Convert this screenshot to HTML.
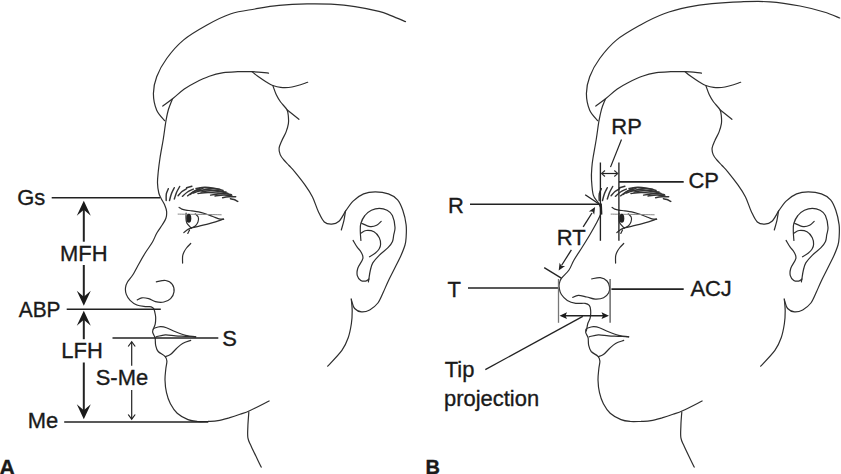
<!DOCTYPE html>
<html><head><meta charset="utf-8"><style>
html,body{margin:0;padding:0;background:#fff;}
svg{display:block;}
text{font-family:"Liberation Sans",sans-serif;fill:#1a1a1a;stroke:#1a1a1a;stroke-width:0.35px;}
</style></head><body>
<svg width="841" height="474" viewBox="0 0 841 474">
<rect width="841" height="474" fill="#fff"/>
<g fill="none" stroke="#2e2e2e" stroke-width="1.2" stroke-linecap="round" stroke-linejoin="round">
<path d="M162.8,106.1 C164.5,104.8 169.3,101.3 172.9,98.5 C176.5,95.7 180.6,91.6 184.3,89.0 C188.0,86.4 190.8,84.8 195.0,82.7 C199.2,80.6 204.6,78.0 209.3,76.3 C214.1,74.6 218.8,73.5 223.5,72.7 C228.2,71.9 233.0,71.9 237.8,71.7 C242.6,71.5 247.0,71.5 252.1,71.7 C257.2,71.9 265.8,72.9 268.5,73.1"/>
<path d="M252.1,71.7 C253.1,72.5 255.4,74.6 257.8,76.3 C260.2,78.0 263.8,80.5 266.3,82.0 C268.8,83.5 270.4,84.6 272.8,85.5 C275.2,86.4 277.4,87.2 280.6,87.4 C283.8,87.7 287.5,87.8 292.0,87.0 C296.5,86.2 305.1,83.1 307.7,82.3"/>
<path d="M272.8,85.5 C273.4,87.0 275.0,92.0 276.3,94.8 C277.6,97.5 278.8,99.5 280.6,102.0 C282.4,104.5 285.7,107.3 287.0,109.8 C288.3,112.3 288.2,114.7 288.4,117.0 C288.6,119.3 288.8,121.1 288.4,123.6 C288.0,126.1 287.1,129.2 286.0,132.1 C284.9,134.9 282.9,138.0 281.8,140.7 C280.7,143.4 279.4,145.9 279.1,148.2 C278.8,150.5 279.4,152.6 280.2,154.6 C281.0,156.6 282.4,158.2 283.9,160.0 C285.4,161.8 287.2,163.5 289.0,165.5 C290.8,167.5 292.1,168.5 294.8,171.8 C297.5,175.1 302.2,180.9 305.1,185.1 C308.1,189.3 310.3,192.5 312.5,196.9 C314.7,201.3 316.4,207.5 318.4,211.7 C320.4,215.9 322.1,219.9 324.3,222.0 C326.5,224.1 329.2,224.3 331.7,224.2 C334.1,224.1 336.7,223.5 339.0,221.3 C341.3,219.1 344.4,212.9 345.5,211.2"/>
<path d="M287.0,109.8 L298.9,119.3"/>
<path d="M345.5,211.2 C346.8,209.5 350.1,204.0 353.1,201.1 C356.1,198.2 359.9,195.4 363.6,193.9 C367.3,192.4 371.2,191.9 375.3,191.9 C379.4,191.9 384.7,192.6 388.4,193.9 C392.1,195.2 395.2,197.1 397.6,199.8 C400.0,202.5 401.4,206.2 402.8,210.3 C404.2,214.4 405.6,220.0 406.1,224.6 C406.7,229.2 406.3,234.3 406.1,237.7 C405.9,241.1 405.8,242.1 405.0,245.0 C404.2,247.9 402.7,251.5 401.2,255.0 C399.7,258.5 397.9,261.9 395.8,266.0 C393.8,270.1 391.0,275.4 388.9,279.7 C386.8,284.0 385.2,288.1 383.4,292.0 C381.6,295.9 380.2,300.0 377.9,303.0 C375.6,306.0 372.4,308.4 369.7,309.9 C367.0,311.4 364.0,312.1 361.5,311.9 C359.0,311.7 356.2,310.2 354.6,308.5 C353.0,306.8 352.5,303.2 351.9,301.6 C351.3,300.0 351.3,299.3 351.2,298.9"/>
<path d="M345.5,211.2 C345.2,212.8 344.6,217.6 343.9,220.7 C343.2,223.8 341.7,228.4 341.3,230.0"/>
<path d="M360.9,240.4 C360.8,238.9 360.3,234.0 360.3,231.2 C360.3,228.3 360.1,225.9 360.9,223.3 C361.7,220.7 363.1,217.7 364.9,215.5 C366.6,213.3 369.0,211.5 371.4,210.3 C373.8,209.1 376.7,208.3 379.3,208.3 C381.9,208.3 384.9,209.1 387.1,210.3 C389.3,211.5 391.1,212.7 392.4,215.5 C393.7,218.3 394.8,224.1 395.0,227.3 C395.2,230.6 394.1,232.7 393.7,235.0 C393.3,237.3 393.4,239.3 392.5,241.4 C391.6,243.5 390.2,245.4 388.0,247.7 C385.8,250.0 381.7,252.8 379.2,255.3 C376.7,257.8 374.3,260.4 372.8,262.9 C371.3,265.4 370.9,268.0 370.3,270.5 C369.7,273.0 369.3,276.2 369.0,278.1 C368.7,280.0 368.5,281.3 368.4,281.9"/>
<path d="M361.6,223.3 C363.0,223.9 367.6,226.3 370.1,226.6 C372.6,226.9 374.8,226.2 376.6,225.3 C378.5,224.4 380.4,222.1 381.2,221.4"/>
<path d="M360.9,233.2 C361.8,232.8 364.0,230.7 366.2,230.5 C368.4,230.3 371.8,230.6 374.0,231.8 C376.2,233.0 378.2,235.6 379.3,237.7 C380.4,239.8 380.6,242.4 380.6,244.3 C380.6,246.2 380.0,247.6 379.1,249.0 C378.2,250.4 377.0,251.7 375.4,253.0 C373.8,254.3 370.5,256.2 369.5,256.8"/>
<path d="M353.1,240.4 C353.8,241.5 355.7,245.1 357.0,246.9 C358.3,248.8 359.7,249.6 360.7,251.5 C361.7,253.4 363.4,255.5 362.9,258.3 C362.4,261.1 358.7,265.3 357.8,268.2 C356.9,271.1 356.8,273.6 357.3,275.6 C357.8,277.6 359.4,279.5 360.8,280.4 C362.2,281.3 364.2,281.3 365.6,281.1 C367.0,280.9 368.4,279.4 369.0,279.0"/>
<path d="M351.4,299.7 C351.5,301.6 352.2,306.8 352.2,310.8 C352.2,314.8 352.1,319.0 351.4,323.5 C350.7,328.0 349.8,333.2 348.2,337.7 C346.6,342.2 345.3,345.6 341.9,350.4 C338.5,355.1 330.1,363.6 327.7,366.2"/>
<path d="M248.8,412.2 C248.7,414.4 248.1,421.2 247.9,425.5 C247.8,429.8 247.3,434.4 247.9,437.9 C248.5,441.4 249.2,441.8 251.4,446.7 C253.6,451.6 259.6,463.7 261.2,467.1"/>
<path d="M190.7,243.5 C190.0,244.2 187.6,246.6 186.5,248.0 C185.4,249.4 184.7,250.6 184.0,252.0 C183.3,253.4 182.8,254.5 182.6,256.4 C182.4,258.2 182.6,262.0 182.6,263.1"/>
<path d="M154.2,328.2 C155.2,327.9 158.3,326.8 160.3,326.7 C162.3,326.6 163.9,326.8 166.4,327.7 C168.9,328.6 172.3,330.5 175.5,331.8 C178.7,333.1 182.2,334.5 185.6,335.3 C189.0,336.1 194.0,336.6 195.7,336.8"/>
<path d="M156.2,336.8 C157.7,336.5 162.1,335.0 165.3,334.8 C168.5,334.6 172.1,335.6 175.5,335.8 C178.9,336.1 182.2,336.1 185.6,336.3 C189.0,336.5 194.0,336.7 195.7,336.8"/>
<path d="M153.2,329.2 C153.1,329.7 152.4,331.0 152.7,332.3 C152.9,333.6 154.3,335.8 154.7,336.8 C155.1,337.8 155.0,337.0 155.2,338.4 C155.4,339.8 155.2,343.2 155.7,345.4 C156.2,347.6 156.6,349.7 158.2,351.5 C159.8,353.3 163.6,354.8 165.0,356.4 C166.4,358.0 166.8,359.0 166.9,361.1 C167.0,363.2 166.1,365.9 165.8,369.0 C165.5,372.1 164.9,376.1 165.0,380.0 C165.1,383.9 165.6,388.7 166.5,392.7 C167.4,396.7 168.6,400.4 170.4,403.8 C172.2,407.2 174.3,410.6 177.2,413.2 C180.1,415.8 184.6,418.2 188.0,419.6 C191.4,421.0 194.1,421.2 197.4,421.5 C200.7,421.8 204.6,421.5 208.0,421.4 C211.4,421.2 214.5,421.2 218.0,420.6 C221.5,420.0 225.3,418.9 229.0,417.9 C232.7,416.8 236.6,415.5 240.0,414.3 C243.4,413.1 244.8,413.0 249.6,410.8 C254.4,408.6 265.9,402.6 269.1,401.0"/>
<path d="M165.3,356.6 C166.2,356.3 168.5,356.0 170.4,354.6 C172.3,353.2 174.5,350.4 176.5,348.5 C178.5,346.6 180.2,344.8 182.6,343.4 C185.0,342.0 189.3,340.9 190.7,340.4"/>
<path d="M179.1,207.4 C179.6,207.7 180.7,208.7 181.8,209.1 C182.9,209.5 184.1,209.8 185.8,210.1 C187.5,210.4 189.8,210.5 191.9,210.8 C194.0,211.1 196.3,211.3 198.6,211.8 C200.8,212.3 203.0,213.0 205.4,213.8 C207.8,214.6 210.6,215.7 212.8,216.5 C215.1,217.3 217.1,218.5 218.9,218.9 C220.7,219.3 222.8,219.1 223.6,219.2"/>
<path d="M186.1,213.1 C186.1,213.9 185.9,216.3 186.0,218.0 C186.1,219.7 185.9,221.3 186.8,223.0 C187.7,224.7 190.5,227.2 191.2,228.0"/>
<path d="M195.3,213.8 C195.8,214.4 197.9,215.8 198.3,217.2 C198.8,218.5 198.5,220.4 198.0,221.9 C197.5,223.4 196.4,225.0 195.3,226.0 C194.2,227.0 191.9,227.7 191.2,228.0"/>
<path d="M191.2,228.0 C192.2,227.8 194.9,227.2 197.3,226.6 C199.7,226.0 202.4,225.4 205.4,224.6 C208.4,223.8 212.5,222.8 215.5,221.9 C218.5,221.0 222.2,219.6 223.6,219.2"/>
<path d="M183.8,232.7 C184.3,232.2 185.8,230.8 187.0,230.0 C188.2,229.2 190.5,228.3 191.2,228.0"/>
<path d="M187.8,233.4 L189.5,230.0"/>
<path d="M595.8,106.1 C597.5,104.8 602.3,101.3 605.9,98.5 C609.5,95.7 613.6,91.6 617.3,89.0 C621.0,86.4 623.8,84.8 628.0,82.7 C632.2,80.6 637.5,78.0 642.3,76.3 C647.0,74.6 651.8,73.5 656.5,72.7 C661.2,71.9 666.0,71.9 670.8,71.7 C675.6,71.5 680.0,71.5 685.1,71.7 C690.2,71.9 698.8,72.9 701.5,73.1"/>
<path d="M685.1,71.7 C686.0,72.5 688.4,74.6 690.8,76.3 C693.2,78.0 696.8,80.5 699.3,82.0 C701.8,83.5 703.4,84.6 705.8,85.5 C708.2,86.4 710.4,87.2 713.6,87.4 C716.8,87.7 720.5,87.8 725.0,87.0 C729.5,86.2 738.1,83.1 740.7,82.3"/>
<path d="M705.8,85.5 C706.4,87.0 708.0,92.0 709.3,94.8 C710.6,97.5 711.8,99.5 713.6,102.0 C715.4,104.5 718.7,107.3 720.0,109.8 C721.3,112.3 721.2,114.7 721.4,117.0 C721.6,119.3 721.8,121.1 721.4,123.6 C721.0,126.1 720.1,129.2 719.0,132.1 C717.9,134.9 715.9,138.0 714.8,140.7 C713.6,143.4 712.4,145.9 712.1,148.2 C711.8,150.5 712.4,152.6 713.2,154.6 C714.0,156.6 715.4,158.2 716.9,160.0 C718.4,161.8 720.2,163.5 722.0,165.5 C723.8,167.5 725.1,168.5 727.8,171.8 C730.5,175.1 735.1,180.9 738.1,185.1 C741.1,189.3 743.3,192.5 745.5,196.9 C747.7,201.3 749.4,207.5 751.4,211.7 C753.4,215.9 755.1,219.9 757.3,222.0 C759.5,224.1 762.2,224.3 764.7,224.2 C767.2,224.1 769.7,223.5 772.0,221.3 C774.3,219.1 777.4,212.9 778.5,211.2"/>
<path d="M720.0,109.8 L731.9,119.3"/>
<path d="M778.5,211.2 C779.8,209.5 783.1,204.0 786.1,201.1 C789.1,198.2 792.9,195.4 796.6,193.9 C800.3,192.4 804.2,191.9 808.3,191.9 C812.4,191.9 817.7,192.6 821.4,193.9 C825.1,195.2 828.2,197.1 830.6,199.8 C833.0,202.5 834.4,206.2 835.8,210.3 C837.2,214.4 838.5,220.0 839.1,224.6 C839.7,229.2 839.3,234.3 839.1,237.7 C838.9,241.1 838.8,242.1 838.0,245.0 C837.2,247.9 835.7,251.5 834.2,255.0 C832.7,258.5 830.8,261.9 828.8,266.0 C826.8,270.1 824.0,275.4 821.9,279.7 C819.8,284.0 818.2,288.1 816.4,292.0 C814.6,295.9 813.2,300.0 810.9,303.0 C808.6,306.0 805.4,308.4 802.7,309.9 C800.0,311.4 797.0,312.1 794.5,311.9 C792.0,311.7 789.2,310.2 787.6,308.5 C786.0,306.8 785.5,303.2 784.9,301.6 C784.3,300.0 784.3,299.3 784.2,298.9"/>
<path d="M778.5,211.2 C778.2,212.8 777.6,217.6 776.9,220.7 C776.2,223.8 774.7,228.4 774.3,230.0"/>
<path d="M793.9,240.4 C793.8,238.9 793.3,234.0 793.3,231.2 C793.3,228.3 793.1,225.9 793.9,223.3 C794.7,220.7 796.1,217.7 797.9,215.5 C799.6,213.3 802.0,211.5 804.4,210.3 C806.8,209.1 809.7,208.3 812.3,208.3 C814.9,208.3 817.9,209.1 820.1,210.3 C822.3,211.5 824.1,212.7 825.4,215.5 C826.7,218.3 827.8,224.1 828.0,227.3 C828.2,230.6 827.1,232.7 826.7,235.0 C826.3,237.3 826.5,239.3 825.5,241.4 C824.5,243.5 823.2,245.4 821.0,247.7 C818.8,250.0 814.7,252.8 812.2,255.3 C809.7,257.8 807.3,260.4 805.8,262.9 C804.3,265.4 803.9,268.0 803.3,270.5 C802.7,273.0 802.3,276.2 802.0,278.1 C801.7,280.0 801.5,281.3 801.4,281.9"/>
<path d="M794.6,223.3 C796.0,223.9 800.6,226.3 803.1,226.6 C805.6,226.9 807.8,226.2 809.6,225.3 C811.5,224.4 813.4,222.1 814.2,221.4"/>
<path d="M793.9,233.2 C794.8,232.8 797.0,230.7 799.2,230.5 C801.4,230.3 804.8,230.6 807.0,231.8 C809.2,233.0 811.2,235.6 812.3,237.7 C813.4,239.8 813.6,242.4 813.6,244.3 C813.6,246.2 813.0,247.6 812.1,249.0 C811.2,250.4 810.0,251.7 808.4,253.0 C806.8,254.3 803.5,256.2 802.5,256.8"/>
<path d="M786.1,240.4 C786.8,241.5 788.7,245.1 790.0,246.9 C791.3,248.8 792.7,249.6 793.7,251.5 C794.7,253.4 796.4,255.5 795.9,258.3 C795.4,261.1 791.7,265.3 790.8,268.2 C789.9,271.1 789.8,273.6 790.3,275.6 C790.8,277.6 792.4,279.5 793.8,280.4 C795.2,281.3 797.2,281.3 798.6,281.1 C800.0,280.9 801.4,279.4 802.0,279.0"/>
<path d="M784.4,299.7 C784.5,301.6 785.2,306.8 785.2,310.8 C785.2,314.8 785.1,319.0 784.4,323.5 C783.7,328.0 782.8,333.2 781.2,337.7 C779.6,342.2 778.3,345.6 774.9,350.4 C771.5,355.1 763.1,363.6 760.7,366.2"/>
<path d="M681.8,412.2 C681.6,414.4 681.0,421.2 680.9,425.5 C680.8,429.8 680.3,434.4 680.9,437.9 C681.5,441.4 682.2,441.8 684.4,446.7 C686.6,451.6 692.6,463.7 694.2,467.1"/>
<path d="M623.7,243.5 C623.0,244.2 620.6,246.6 619.5,248.0 C618.4,249.4 617.6,250.6 617.0,252.0 C616.4,253.4 615.8,254.5 615.6,256.4 C615.4,258.2 615.6,262.0 615.6,263.1"/>
<path d="M587.2,328.2 C588.2,327.9 591.3,326.8 593.3,326.7 C595.3,326.6 596.9,326.8 599.4,327.7 C601.9,328.6 605.3,330.5 608.5,331.8 C611.7,333.1 615.2,334.5 618.6,335.3 C622.0,336.1 627.0,336.6 628.7,336.8"/>
<path d="M589.2,336.8 C590.7,336.5 595.1,335.0 598.3,334.8 C601.5,334.6 605.1,335.6 608.5,335.8 C611.9,336.1 615.2,336.1 618.6,336.3 C622.0,336.5 627.0,336.7 628.7,336.8"/>
<path d="M586.2,329.2 C586.1,329.7 585.5,331.0 585.7,332.3 C586.0,333.6 587.3,335.8 587.7,336.8 C588.1,337.8 588.0,337.0 588.2,338.4 C588.4,339.8 588.2,343.2 588.7,345.4 C589.2,347.6 589.7,349.7 591.2,351.5 C592.8,353.3 596.5,354.8 598.0,356.4 C599.5,358.0 599.8,359.0 599.9,361.1 C600.0,363.2 599.1,365.9 598.8,369.0 C598.5,372.1 597.9,376.1 598.0,380.0 C598.1,383.9 598.6,388.7 599.5,392.7 C600.4,396.7 601.6,400.4 603.4,403.8 C605.2,407.2 607.3,410.6 610.2,413.2 C613.1,415.8 617.6,418.2 621.0,419.6 C624.4,421.0 627.1,421.2 630.4,421.5 C633.7,421.8 637.6,421.5 641.0,421.4 C644.4,421.2 647.5,421.2 651.0,420.6 C654.5,420.0 658.3,418.9 662.0,417.9 C665.7,416.8 669.6,415.5 673.0,414.3 C676.4,413.1 677.8,413.0 682.6,410.8 C687.5,408.6 698.9,402.6 702.1,401.0"/>
<path d="M598.3,356.6 C599.1,356.3 601.5,356.0 603.4,354.6 C605.3,353.2 607.5,350.4 609.5,348.5 C611.5,346.6 613.2,344.8 615.6,343.4 C618.0,342.0 622.4,340.9 623.7,340.4"/>
<path d="M612.1,207.4 C612.5,207.7 613.7,208.7 614.8,209.1 C615.9,209.5 617.1,209.8 618.8,210.1 C620.5,210.4 622.8,210.5 624.9,210.8 C627.0,211.1 629.4,211.3 631.6,211.8 C633.9,212.3 636.0,213.0 638.4,213.8 C640.8,214.6 643.5,215.7 645.8,216.5 C648.0,217.3 650.1,218.5 651.9,218.9 C653.7,219.3 655.8,219.1 656.6,219.2"/>
<path d="M619.1,213.1 C619.1,213.9 618.9,216.3 619.0,218.0 C619.1,219.7 618.9,221.3 619.8,223.0 C620.7,224.7 623.5,227.2 624.2,228.0"/>
<path d="M628.3,213.8 C628.8,214.4 630.8,215.8 631.3,217.2 C631.8,218.5 631.5,220.4 631.0,221.9 C630.5,223.4 629.4,225.0 628.3,226.0 C627.2,227.0 624.9,227.7 624.2,228.0"/>
<path d="M624.2,228.0 C625.2,227.8 627.9,227.2 630.3,226.6 C632.7,226.0 635.4,225.4 638.4,224.6 C641.4,223.8 645.5,222.8 648.5,221.9 C651.5,221.0 655.2,219.6 656.6,219.2"/>
<path d="M616.8,232.7 C617.3,232.2 618.8,230.8 620.0,230.0 C621.2,229.2 623.5,228.3 624.2,228.0"/>
<path d="M620.8,233.4 L622.5,230.0"/>
<path d="M405.5,21.6 C403.1,20.6 395.4,17.3 391.0,15.6 C386.6,13.9 385.0,12.9 379.0,11.4 C373.0,9.9 363.0,7.8 355.0,6.6 C347.0,5.4 339.0,4.7 331.0,4.2 C323.0,3.8 315.7,3.7 307.0,3.9 C298.3,4.1 287.7,4.6 279.0,5.4 C270.3,6.2 263.0,7.6 255.0,9.0 C247.0,10.4 239.0,11.1 231.0,13.8 C223.0,16.5 214.9,20.6 207.0,25.0 C199.1,29.4 190.1,34.5 183.4,40.1 C176.7,45.7 171.1,52.4 166.7,58.5 C162.2,64.6 158.9,71.0 156.7,76.8 C154.5,82.6 153.4,88.0 153.4,93.6 C153.4,99.2 154.8,105.8 156.7,110.3 C158.6,114.8 163.4,119.0 164.7,120.7"/>
<path d="M172.3,99.2 C171.7,100.9 169.6,105.7 168.5,109.3 C167.4,112.9 166.9,115.8 166.0,120.7 C165.1,125.7 164.3,132.8 163.3,139.0 C162.3,145.2 160.8,152.6 160.0,158.0 C159.2,163.4 158.7,167.1 158.3,171.3 C157.9,175.5 157.4,179.4 157.5,183.0 C157.6,186.6 158.2,190.4 158.8,193.0 C159.4,195.6 160.2,196.5 161.1,198.4 C162.0,200.3 163.6,202.4 164.5,204.6 C165.4,206.8 166.4,209.1 166.6,211.4 C166.8,213.7 166.6,216.1 165.9,218.3 C165.2,220.5 164.0,222.1 162.5,224.5 C161.0,226.9 158.7,229.8 157.0,232.7 C155.3,235.6 154.4,238.7 152.5,242.0 C150.6,245.3 147.8,248.9 145.5,252.5 C143.2,256.1 141.1,259.9 139.0,263.7 C136.9,267.4 134.6,272.0 132.7,275.0 C130.8,278.0 128.8,279.7 127.6,281.8 C126.4,283.9 125.7,285.6 125.5,287.7 C125.3,289.8 125.5,292.3 126.3,294.4 C127.1,296.5 128.3,298.5 130.1,300.3 C131.9,302.1 134.4,303.9 136.9,305.0 C139.4,306.1 142.9,306.3 145.3,306.6 C147.7,306.9 149.8,306.4 151.2,306.8 C152.6,307.2 153.1,307.4 153.8,308.8 C154.5,310.2 155.1,313.4 155.4,315.0 C155.7,316.6 155.7,316.6 155.7,318.1 C155.7,319.6 155.6,322.4 155.2,324.2 C154.8,326.0 153.5,328.4 153.2,329.2"/>
<path d="M137.3,299.9 C138.1,299.5 140.0,298.0 141.9,297.8 C143.8,297.6 146.4,298.0 148.7,298.6 C150.9,299.2 152.9,301.0 155.4,301.6 C157.9,302.2 161.4,302.5 163.9,302.0 C166.4,301.5 168.9,300.3 170.6,298.6 C172.3,296.9 173.7,294.3 174.0,291.9 C174.3,289.5 173.7,286.2 172.3,284.3 C170.9,282.4 168.3,280.9 165.6,280.5 C162.9,280.1 157.9,281.6 156.3,281.8"/>
<path d="M839.7,18.0 C837.1,17.0 830.6,14.0 824.0,12.0 C817.4,10.0 809.0,7.7 800.0,6.0 C791.0,4.3 779.8,2.5 770.0,1.8 C760.2,1.1 750.7,1.5 741.0,1.8 C731.3,2.1 720.8,2.7 712.0,3.6 C703.2,4.5 696.0,5.5 688.0,7.2 C680.0,8.9 672.0,10.8 664.0,13.8 C656.0,16.8 647.9,20.8 640.0,25.2 C632.1,29.6 623.1,34.6 616.4,40.1 C609.7,45.6 604.2,52.4 599.7,58.5 C595.2,64.6 591.9,71.0 589.7,76.8 C587.5,82.6 586.4,88.0 586.4,93.6 C586.4,99.2 587.8,105.8 589.7,110.3 C591.6,114.8 596.4,119.0 597.7,120.7"/>
<path d="M605.3,99.2 C604.7,100.9 602.5,105.7 601.5,109.3 C600.5,112.9 599.9,115.8 599.0,120.7 C598.1,125.7 597.3,132.8 596.3,139.0 C595.3,145.2 593.8,153.2 593.0,158.0 C592.2,162.8 592.0,164.4 591.8,168.0 C591.5,171.6 591.2,175.2 591.5,179.7 C591.8,184.2 592.2,191.4 593.3,195.2 C594.4,199.0 596.8,200.3 598.0,202.3 C599.2,204.3 600.0,206.2 600.4,207.0"/>
<path d="M600.8,214.0 C600.2,215.3 598.8,218.6 597.0,222.0 C595.2,225.4 592.5,230.2 590.0,234.5 C587.5,238.8 584.7,243.2 582.0,247.5 C579.3,251.8 576.2,256.2 574.0,260.0 C571.8,263.8 571.1,266.9 569.0,270.0 C566.9,273.1 563.0,276.1 561.4,278.4 C559.8,280.6 559.6,281.8 559.3,283.5 C558.9,285.2 558.9,286.8 559.3,288.6 C559.6,290.4 560.1,292.5 561.4,294.5 C562.7,296.5 564.9,298.9 567.3,300.4 C569.7,301.9 572.8,302.8 575.8,303.3 C578.8,303.8 582.9,303.0 585.1,303.3 C587.4,303.6 588.4,304.3 589.3,305.4 C590.2,306.5 590.5,307.9 590.6,310.0 C590.8,312.1 590.7,315.6 590.2,317.8 C589.7,320.1 588.4,321.4 587.8,323.5 C587.2,325.6 586.7,329.8 586.4,330.7 C586.1,331.6 586.2,329.4 586.2,329.2"/>
<path d="M572.8,297.4 C573.7,297.0 576.0,295.4 578.3,295.3 C580.6,295.2 584.0,296.4 586.8,297.0 C589.6,297.6 592.4,299.0 595.2,299.1 C598.0,299.2 601.4,298.9 603.6,297.8 C605.9,296.8 607.7,294.6 608.7,292.8 C609.7,291.0 609.8,288.9 609.5,286.9 C609.2,284.9 608.5,282.6 607.0,281.0 C605.5,279.4 602.8,278.0 600.3,277.6 C597.8,277.2 593.2,278.7 591.8,278.9"/>

</g>
<g fill="none" stroke="#888" stroke-width="1.0">
<path d="M177.7,214.1 C181.4,214.2 192.7,214.3 200.0,214.4 C207.3,214.5 218.0,214.7 221.6,214.8"/>
<path d="M610.7,214.1 C614.4,214.2 625.7,214.3 633.0,214.4 C640.3,214.5 651.0,214.7 654.6,214.8"/>
</g>
<g fill="none" stroke="#333" stroke-width="1.45" stroke-linecap="round">
<path d="M166.2,200.5 C166.2,199.4 166.0,196.0 166.3,194.0 C166.7,192.0 168.0,189.6 168.3,188.7"/>
<path d="M169.5,200.5 C169.8,199.3 170.7,195.6 171.5,193.5 C172.3,191.4 173.8,188.7 174.3,187.7"/>
<path d="M174.3,199.1 C174.7,198.0 175.6,194.6 176.5,192.5 C177.4,190.4 179.2,187.5 179.7,186.5"/>
<path d="M178.1,195.8 C178.8,195.1 180.6,192.7 182.0,191.5 C183.4,190.3 185.8,189.2 186.6,188.7"/>
<path d="M182.4,196.3 C183.2,195.6 185.7,193.2 187.5,192.0 C189.3,190.8 192.3,189.6 193.3,189.1"/>
<path d="M187.6,195.8 C188.6,195.1 191.4,192.8 193.5,191.5 C195.6,190.2 198.9,188.8 200.0,188.2"/>
<path d="M186.6,187.7 L191.9,186.3"/>
<path d="M193.3,193.0 L200.0,190.6"/>
<path d="M196.0,188.5 C197.5,188.3 202.0,187.3 205.0,187.3 C208.0,187.3 211.0,187.8 214.0,188.3 C217.0,188.8 221.6,190.1 223.1,190.4"/>
<path d="M198.0,193.5 C199.7,193.3 204.7,192.6 208.0,192.5 C211.3,192.4 215.1,192.8 217.9,193.0 C220.7,193.2 222.7,193.5 225.0,193.8 C227.3,194.1 230.4,194.5 231.5,194.6"/>
<path d="M198.0,191.0 C199.5,190.8 204.0,189.9 207.0,189.8 C210.0,189.7 212.8,190.1 216.0,190.5 C219.2,190.9 224.3,191.8 226.0,192.0"/>
<path d="M210.6,195.1 C211.8,194.9 215.6,194.3 218.0,194.0 C220.4,193.7 224.0,193.6 225.2,193.5"/>
<path d="M222.6,197.7 C223.7,197.5 226.8,197.0 229.0,196.8 C231.2,196.6 234.6,196.7 235.7,196.7"/>
<path d="M230.4,198.7 C231.0,198.8 232.8,199.1 234.0,199.5 C235.2,199.9 237.2,201.1 237.8,201.4"/>
<path d="M190.0,194.5 C191.0,193.8 193.8,191.5 196.0,190.5 C198.2,189.5 201.8,188.8 203.0,188.5"/>
<path d="M201.0,192.0 C202.5,191.8 206.8,190.9 210.0,190.8 C213.2,190.7 217.0,191.1 220.0,191.5 C223.0,191.9 226.7,193.2 228.0,193.5"/>
<path d="M204.0,189.5 C205.3,189.3 209.3,188.5 212.0,188.5 C214.7,188.5 218.7,189.3 220.0,189.5"/>
<path d="M215.0,196.0 C216.5,195.8 221.2,195.0 224.0,195.0 C226.8,195.0 230.7,195.8 232.0,196.0"/>
<path d="M599.2,200.5 C599.2,199.4 598.9,196.0 599.3,194.0 C599.6,192.0 601.0,189.6 601.3,188.7"/>
<path d="M602.5,200.5 C602.8,199.3 603.7,195.6 604.5,193.5 C605.3,191.4 606.8,188.7 607.3,187.7"/>
<path d="M607.3,199.1 C607.7,198.0 608.6,194.6 609.5,192.5 C610.4,190.4 612.2,187.5 612.7,186.5"/>
<path d="M611.1,195.8 C611.8,195.1 613.6,192.7 615.0,191.5 C616.4,190.3 618.8,189.2 619.6,188.7"/>
<path d="M615.4,196.3 C616.2,195.6 618.7,193.2 620.5,192.0 C622.3,190.8 625.3,189.6 626.3,189.1"/>
<path d="M620.6,195.8 C621.6,195.1 624.4,192.8 626.5,191.5 C628.6,190.2 631.9,188.8 633.0,188.2"/>
<path d="M619.6,187.7 L624.9,186.3"/>
<path d="M626.3,193.0 L633.0,190.6"/>
<path d="M629.0,188.5 C630.5,188.3 635.0,187.3 638.0,187.3 C641.0,187.3 644.0,187.8 647.0,188.3 C650.0,188.8 654.6,190.1 656.1,190.4"/>
<path d="M631.0,193.5 C632.7,193.3 637.7,192.6 641.0,192.5 C644.3,192.4 648.1,192.8 650.9,193.0 C653.7,193.2 655.7,193.5 658.0,193.8 C660.3,194.1 663.4,194.5 664.5,194.6"/>
<path d="M631.0,191.0 C632.5,190.8 637.0,189.9 640.0,189.8 C643.0,189.7 645.8,190.1 649.0,190.5 C652.2,190.9 657.3,191.8 659.0,192.0"/>
<path d="M643.6,195.1 C644.8,194.9 648.6,194.3 651.0,194.0 C653.4,193.7 657.0,193.6 658.2,193.5"/>
<path d="M655.6,197.7 C656.7,197.5 659.8,197.0 662.0,196.8 C664.2,196.6 667.6,196.7 668.7,196.7"/>
<path d="M663.4,198.7 C664.0,198.8 665.8,199.1 667.0,199.5 C668.2,199.9 670.2,201.1 670.8,201.4"/>
<path d="M623.0,194.5 C624.0,193.8 626.8,191.5 629.0,190.5 C631.2,189.5 634.8,188.8 636.0,188.5"/>
<path d="M634.0,192.0 C635.5,191.8 639.8,190.9 643.0,190.8 C646.2,190.7 650.0,191.1 653.0,191.5 C656.0,191.9 659.7,193.2 661.0,193.5"/>
<path d="M637.0,189.5 C638.3,189.3 642.3,188.5 645.0,188.5 C647.7,188.5 651.7,189.3 653.0,189.5"/>
<path d="M648.0,196.0 C649.5,195.8 654.2,195.0 657.0,195.0 C659.8,195.0 663.7,195.8 665.0,196.0"/>
</g>
<ellipse cx="188.8" cy="218.2" rx="2.5" ry="4.5" fill="#222"/>
<ellipse cx="621.8" cy="218.2" rx="2.5" ry="4.5" fill="#222"/>
<line x1="51.7" y1="197.8" x2="160.0" y2="197.8" stroke="#222" stroke-width="1.60"/>
<line x1="66.7" y1="309.2" x2="160.8" y2="309.2" stroke="#222" stroke-width="1.60"/>
<line x1="112.5" y1="338.0" x2="218.3" y2="338.0" stroke="#222" stroke-width="1.60"/>
<line x1="64.2" y1="422.0" x2="208.3" y2="422.0" stroke="#222" stroke-width="1.60"/>
<line x1="83.8" y1="208.0" x2="83.8" y2="241.7" stroke="#222" stroke-width="2.00"/>
<line x1="83.8" y1="265.0" x2="83.8" y2="298.0" stroke="#222" stroke-width="2.00"/>
<line x1="83.8" y1="318.0" x2="83.8" y2="339.2" stroke="#222" stroke-width="2.00"/>
<line x1="83.8" y1="362.5" x2="83.8" y2="411.0" stroke="#222" stroke-width="2.00"/>
<path d="M83.8,200.8 L90.8,215.8 L83.8,209.8 L76.8,215.8 Z" fill="#1a1a1a" stroke="none"/>
<path d="M83.8,305.8 L90.8,290.8 L83.8,296.8 L76.8,290.8 Z" fill="#1a1a1a" stroke="none"/>
<path d="M83.8,310.8 L90.8,325.8 L83.8,319.8 L76.8,325.8 Z" fill="#1a1a1a" stroke="none"/>
<path d="M83.8,419.2 L90.8,404.2 L83.8,410.2 L76.8,404.2 Z" fill="#1a1a1a" stroke="none"/>
<line x1="131.7" y1="342.0" x2="131.7" y2="365.8" stroke="#222" stroke-width="1.20"/>
<line x1="131.7" y1="390.0" x2="131.7" y2="419.0" stroke="#222" stroke-width="1.20"/>
<path d="M128.2,346.5 L131.7,341.7 L135.2,346.5" fill="none" stroke="#222" stroke-width="1.2"/>
<path d="M128.2,414.5 L131.7,419.2 L135.2,414.5" fill="none" stroke="#222" stroke-width="1.2"/>
<line x1="470.0" y1="204.3" x2="599.5" y2="204.3" stroke="#222" stroke-width="1.60"/>
<line x1="585.2" y1="194.8" x2="599.8" y2="204.5" stroke="#222" stroke-width="1.30"/>
<line x1="600.4" y1="162.5" x2="600.4" y2="240.8" stroke="#222" stroke-width="1.35"/>
<line x1="618.9" y1="162.5" x2="618.9" y2="240.8" stroke="#222" stroke-width="1.35"/>
<line x1="602.0" y1="173.5" x2="617.3" y2="173.5" stroke="#222" stroke-width="1.20"/>
<path d="M605,170.5 L601.5,173.5 L605,176.5 M614.3,170.5 L617.8,173.5 L614.3,176.5" fill="none" stroke="#333" stroke-width="1.1"/>
<line x1="621.5" y1="139.5" x2="610.5" y2="167.1" stroke="#222" stroke-width="1.20"/>
<line x1="619.0" y1="181.9" x2="683.7" y2="181.9" stroke="#222" stroke-width="1.60"/>
<line x1="583.2" y1="226.9" x2="592.0" y2="213.0" stroke="#222" stroke-width="1.30"/>
<path d="M595.1,207.1 L594.2,214.7 L592.4,211.6 L588.8,211.5 Z" fill="#222"/>
<line x1="571.4" y1="249.8" x2="561.5" y2="265.5" stroke="#222" stroke-width="1.30"/>
<path d="M558.7,270.4 L559.6,262.8 L561.5,265.9 L565.1,266.1 Z" fill="#222"/>
<line x1="600.8" y1="203.5" x2="601.3" y2="214.5" stroke="#222" stroke-width="2.20"/>
<line x1="544.2" y1="267.6" x2="561.3" y2="278.1" stroke="#222" stroke-width="1.30"/>
<line x1="468.0" y1="288.0" x2="559.4" y2="288.0" stroke="#222" stroke-width="1.60"/>
<line x1="558.5" y1="279.0" x2="558.5" y2="322.8" stroke="#777" stroke-width="1.30"/>
<line x1="610.1" y1="279.0" x2="610.1" y2="322.8" stroke="#555" stroke-width="1.30"/>
<line x1="611.4" y1="289.1" x2="683.7" y2="289.1" stroke="#222" stroke-width="1.60"/>
<line x1="565.0" y1="315.7" x2="603.0" y2="315.7" stroke="#222" stroke-width="1.60"/>
<path d="M559.5,315.7 L567,312.3 L565.5,315.7 L567,319.1 Z M609,315.7 L601.5,312.3 L603,315.7 L601.5,319.1 Z" fill="#1a1a1a"/>
<line x1="582.8" y1="316.4" x2="485.3" y2="369.6" stroke="#222" stroke-width="1.30"/>
<text transform="translate(17.3,204.8) scale(0.975,1)" font-size="22.5" font-weight="normal">Gs</text>
<text transform="translate(60.0,260.8) scale(0.975,1)" font-size="22.5" font-weight="normal">MFH</text>
<text transform="translate(18.7,316.8) scale(0.930,1)" font-size="22.5" font-weight="normal">ABP</text>
<text transform="translate(61.3,357.8) scale(0.975,1)" font-size="22.5" font-weight="normal">LFH</text>
<text transform="translate(222.3,345.8) scale(0.975,1)" font-size="22.5" font-weight="normal">S</text>
<text transform="translate(95.7,384.8) scale(0.975,1)" font-size="22.5" font-weight="normal">S-Me</text>
<text transform="translate(27.7,427.8) scale(0.975,1)" font-size="22.5" font-weight="normal">Me</text>
<text transform="translate(-0.8,474.8) scale(0.975,1)" font-size="22.5" font-weight="bold">A</text>
<text x="425.6" y="474.3" font-size="20" font-weight="bold">B</text>
<text transform="translate(611.3,134.3) scale(0.975,1)" font-size="22.5" font-weight="normal">RP</text>
<text transform="translate(688.4,187.8) scale(0.975,1)" font-size="22.5" font-weight="normal">CP</text>
<text transform="translate(448.0,213.3) scale(0.975,1)" font-size="22.5" font-weight="normal">R</text>
<text transform="translate(556.7,245.3) scale(0.975,1)" font-size="22.5" font-weight="normal">RT</text>
<text transform="translate(447.6,296.8) scale(0.975,1)" font-size="22.5" font-weight="normal">T</text>
<text transform="translate(690.4,295.8) scale(0.975,1)" font-size="22.5" font-weight="normal">ACJ</text>
<text transform="translate(444.7,377.4) scale(0.975,1)" font-size="22.5" font-weight="normal">Tip</text>
<text transform="translate(444.0,405.5) scale(0.975,1)" font-size="22.5" font-weight="normal">projection</text>
</svg>
</body></html>
